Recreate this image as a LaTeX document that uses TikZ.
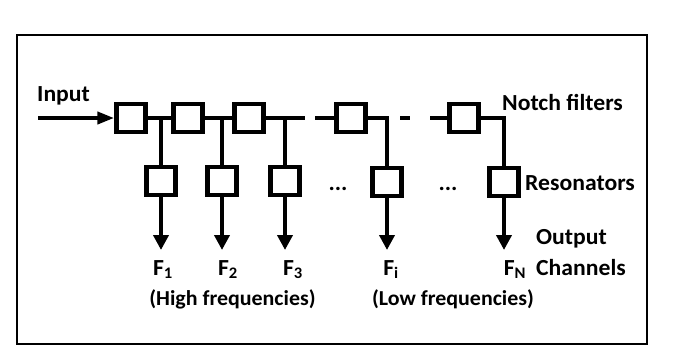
\documentclass[tikz,border=0pt]{standalone}
\usepackage{fontspec}
\setmainfont{Carlito}[FakeStretch=1.03]
\usetikzlibrary{arrows.meta}
\tikzset{
  filt/.style={draw, line width=4.5pt, minimum width=29pt, minimum height=28pt, inner sep=0pt},
  wire/.style={line width=4pt},
  arr/.style={wire, -{Triangle[length=15pt,width=15pt]}},
  inarr/.style={wire, -{Triangle[length=17pt,width=12pt]}},
  lbl/.style={inner sep=0pt, anchor=base west},
  clbl/.style={inner sep=0pt, anchor=base},
  small/.style={clbl, font=\bfseries\fontsize{21.3}{25}\selectfont},
}
\begin{document}
\begin{tikzpicture}[x=1pt, y=-1pt, font=\bfseries\fontsize{23}{27}\selectfont]
\useasboundingbox (0,0) rectangle (685,362);
\node[draw, line width=2pt, minimum width=630pt, minimum height=309pt, inner sep=0pt] (frame) at (332,189.5) {};
% notch filters
\node[filt] (N1) at (131,118) {};
\node[filt] (N2) at (188,118) {};
\node[filt] (N3) at (249,118) {};
\node[filt] (N4) at (351,118) {};
\node[filt] (N5) at (464,118) {};
% resonators
\node[filt] (R1) at (161,181) {};
\node[filt] (R2) at (222,181) {};
\node[filt] (R3) at (285,181) {};
\node[filt] (R4) at (387,182) {};
\node[filt] (R5) at (504,182) {};
% coordinates
\coordinate (in) at (38,118);
\coordinate (j1) at (161,118);
\coordinate (j2) at (222,118);
\coordinate (j3) at (285,118);
\coordinate (c1) at (305,118);
\coordinate (c2) at (315,118);
\coordinate (c3) at (400,118);
\coordinate (c4) at (410,118);
\coordinate (c5) at (430,118);
\coordinate (o1) at (161,250);
\coordinate (o2) at (222,250);
\coordinate (o3) at (285,250);
\coordinate (o4) at (387,250);
\coordinate (o5) at (504,250);
% chain
\draw[inarr] (in) -- (N1.west);
\draw[wire] (N1.east) -- (N2.west);
\draw[wire] (N2.east) -- (N3.west);
\draw[wire] (N3.east) -- (c1);
\draw[wire] (c2) -- (N4.west);
\draw[wire] (N4.east) -| (R4.north);
\draw[wire] (c3) -- (c4);
\draw[wire] (c5) -- (N5.west);
\draw[wire] (N5.east) -| (R5.north);
% branches
\draw[wire] (j1) -- (R1.north);
\draw[wire] (j2) -- (R2.north);
\draw[wire] (j3) -- (R3.north);
% outputs
\draw[arr] (R1.south) -- (o1);
\draw[arr] (R2.south) -- (o2);
\draw[arr] (R3.south) -- (o3);
\draw[arr] (R4.south) -- (o4);
\draw[arr] (R5.south) -- (o5);
% labels
\node[lbl] (tin) at (37,101) {Input};
\node[lbl] (tnotch) at (502,110) {Notch filters};
\node[lbl] (tres) at (525,190) {Resonators};
\node[lbl] (tout) at (536,244) {Output};
\node[lbl] (tch) at (536,275) {Channels};
\node[clbl] (d1) at (338,190) {...};
\node[clbl] (d2) at (448,190) {...};
\node[clbl] (f1) at (163,275) {F\textsubscript{1}};
\node[clbl] (f2) at (228,275) {F\textsubscript{2}};
\node[clbl] (f3) at (293,275) {F\textsubscript{3}};
\node[clbl] (fi) at (391,275) {F\textsubscript{i}};
\node[clbl] (fn) at (515,275) {F\textsubscript{N}};
\node[small] (hi) at (232.5,305) {(High frequencies)};
\node[small] (lo) at (453,305) {(Low frequencies)};
\end{tikzpicture}
\end{document}
